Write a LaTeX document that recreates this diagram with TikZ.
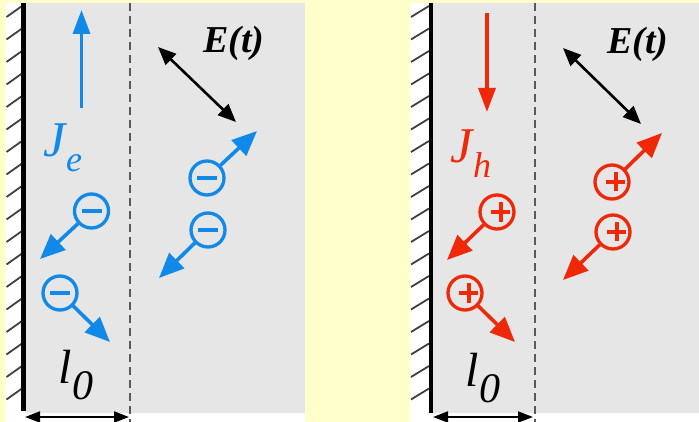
\documentclass[tikz,border=0pt]{standalone}
\usepackage{fontspec}
\setmainfont{Liberation Serif}
\usetikzlibrary{arrows.meta,calc}
\definecolor{bgyellow}{RGB}{255,255,204}
\definecolor{panelgrey}{RGB}{230,230,230}
\definecolor{eblue}{RGB}{17,137,232}
\definecolor{hred}{RGB}{240,40,10}
\tikzset{
  hatchline/.style={line width=1.8pt, black!75},
  wallline/.style={line width=4.5pt, black},
  dashline/.style={line width=1.3pt, black!65, dash pattern=on 8pt off 5pt},
  chargecirc/.style={circle, draw=#1, line width=3.3pt, minimum size=34pt, inner sep=0pt, text=#1},
  chargearrow/.style={draw=#1, line width=3.6pt, -{Triangle[length=25pt,width=21pt]}, color=#1},
  currentarrow/.style={draw=#1, line width=3.4pt, -{Triangle[length=24pt,width=17pt]}, color=#1},
  fieldarrow/.style={line width=2.6pt, black, {Triangle[length=18pt,width=15pt]}-{Triangle[length=18pt,width=15pt]}},
  dimarrow/.style={line width=2pt, black, {Triangle[length=15pt,width=11pt]}-{Triangle[length=15pt,width=11pt]}},
  lbl/.style={inner sep=0pt},
}
\newcommand{\minussign}{\rule[-2.1pt]{20pt}{4.2pt}}
\newcommand{\plussign}{\rlap{\rule[-2.1pt]{19pt}{4.2pt}}\hspace{7.4pt}\rule[-9.5pt]{4.2pt}{19pt}\hspace{7.4pt}}
\begin{document}
\begin{tikzpicture}[x=1pt,y=-1pt]
\useasboundingbox (0,0) rectangle (699,422);
\fill[bgyellow] (0,0) rectangle (699,422);
% left panel
\fill[white] (6,3) rectangle (305,422);
\fill[panelgrey] (25,3) rectangle (305,413);
% right panel
\fill[white] (410,3) rectangle (699,422);
\fill[panelgrey] (432,3) rectangle (699,413);
% hatching
\foreach \y in {6,28.5,...,392} {
  \draw[hatchline] (6.5,\y+11) -- (22,\y);
  \draw[hatchline] (411,\y+11) -- (429,\y);
}
% walls
\coordinate (wLtop) at (23.5,3); \coordinate (wLbot) at (23.5,411);
\coordinate (wRtop) at (431,3); \coordinate (wRbot) at (431,413);
\draw[wallline] (wLtop) -- (wLbot);
\draw[wallline] (wRtop) -- (wRbot);
% dashed boundaries
\coordinate (dLtop) at (130,3); \coordinate (dLbot) at (130,422);
\coordinate (dRtop) at (535,3); \coordinate (dRbot) at (535,422);
\draw[dashline] (dLtop) -- (dLbot);
\draw[dashline] (dRtop) -- (dRbot);

% ---------- left panel (electrons) ----------
\coordinate (JeS) at (81.5,108); \coordinate (JeE) at (81.5,10);
\draw[currentarrow=eblue] (JeS) -- (JeE);
\node[lbl, text=eblue] (Je) at (63,148) {\fontsize{50}{50}\selectfont\itshape J\raisebox{-0.3em}{\fontsize{36}{36}\selectfont e}};
\node[lbl] (Et1) at (234,43) {\fontsize{38}{38}\selectfont\bfseries\itshape E(t)};
\coordinate (F1a) at (158,47); \coordinate (F1b) at (236,122);
\draw[fieldarrow] (F1a) -- (F1b);
\node[chargecirc=eblue] (e1) at (91.5,211) {\minussign};
\node[chargecirc=eblue] (e2) at (60,293) {\minussign};
\node[chargecirc=eblue] (e3) at (207,178) {\minussign};
\node[chargecirc=eblue] (e4) at (208,230) {\minussign};
\coordinate (te1) at (40,259);
\coordinate (te2) at (110,342);
\coordinate (te3) at (257,131);
\coordinate (te4) at (159,278);
\draw[chargearrow=eblue] (e1) -- (te1);
\draw[chargearrow=eblue] (e2) -- (te2);
\draw[chargearrow=eblue] (e3) -- (te3);
\draw[chargearrow=eblue] (e4) -- (te4);
\node[lbl] (l0L) at (76,375) {\fontsize{48}{48}\selectfont\itshape l\raisebox{-0.32em}{\fontsize{42}{42}\selectfont 0}};
\coordinate (dLa) at (25,417); \coordinate (dLb) at (129,417);
\draw[dimarrow] (dLa) -- (dLb);

% ---------- right panel (holes) ----------
\coordinate (JhS) at (487,13); \coordinate (JhE) at (487,112);
\draw[currentarrow=hred] (JhS) -- (JhE);
\node[lbl, text=hred] (Jh) at (471,154) {\fontsize{50}{50}\selectfont\itshape J\raisebox{-0.3em}{\fontsize{36}{36}\selectfont h}};
\node[lbl] (Et2) at (638,44) {\fontsize{38}{38}\selectfont\bfseries\itshape E(t)};
\coordinate (F2a) at (563,48); \coordinate (F2b) at (641,124);
\draw[fieldarrow] (F2a) -- (F2b);
\node[chargecirc=hred] (h1) at (497,212) {\plussign};
\node[chargecirc=hred] (h2) at (465,293) {\plussign};
\node[chargecirc=hred] (h3) at (612,182) {\plussign};
\node[chargecirc=hred] (h4) at (613,232) {\plussign};
\coordinate (th1) at (447,260);
\coordinate (th2) at (515,342);
\coordinate (th3) at (662,133);
\coordinate (th4) at (563,280);
\draw[chargearrow=hred] (h1) -- (th1);
\draw[chargearrow=hred] (h2) -- (th2);
\draw[chargearrow=hred] (h3) -- (th3);
\draw[chargearrow=hred] (h4) -- (th4);
\node[lbl] (l0R) at (483,378) {\fontsize{48}{48}\selectfont\itshape l\raisebox{-0.32em}{\fontsize{42}{42}\selectfont 0}};
\coordinate (dRa) at (433,417); \coordinate (dRb) at (533,417);
\draw[dimarrow] (dRa) -- (dRb);
\end{tikzpicture}
\end{document}
